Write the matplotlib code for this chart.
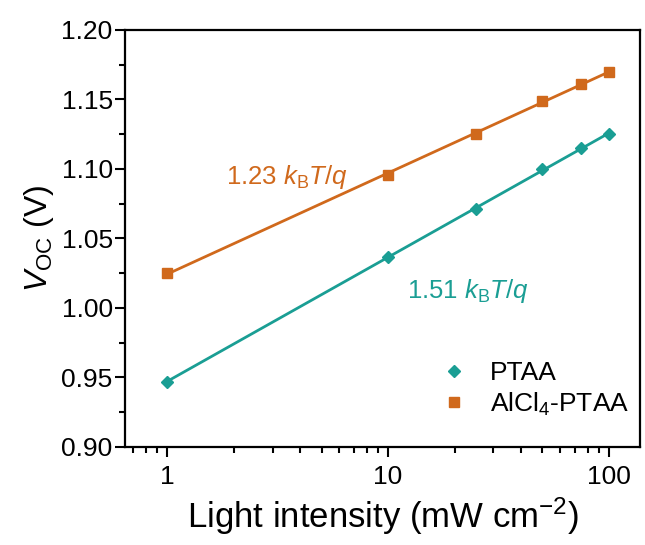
import numpy as np
import matplotlib
matplotlib.use("Agg")
import matplotlib.pyplot as plt
from matplotlib.ticker import LogLocator, NullFormatter, MultipleLocator

plt.rcParams["font.family"] = ["Liberation Sans", "DejaVu Sans"]
plt.rcParams["mathtext.fontset"] = "custom"
plt.rcParams["mathtext.rm"] = "Liberation Sans"
plt.rcParams["mathtext.it"] = "Liberation Sans:italic"
plt.rcParams["mathtext.bf"] = "Liberation Sans:bold"

# light intensity (mW cm^-2)
intensity = [1, 10, 25, 50, 75, 100]
voc_ptaa = [0.947, 1.037, 1.071, 1.100, 1.115, 1.125]
voc_alcl4 = [1.025, 1.096, 1.125, 1.149, 1.161, 1.170]

teal = "#1a9e94"
orange = "#d0691c"

fig = plt.figure(figsize=(6.45, 5.45), dpi=100)
ax = fig.add_axes([0.194, 0.180, 0.798, 0.765])

x = np.array(intensity, dtype=float)
for y, c, m, ms, lab in [(voc_ptaa, teal, "D", 6.5, "PTAA"),
                         (voc_alcl4, orange, "s", 6.5, r"AlCl$_4$-PTAA")]:
    p = np.polyfit(np.log10(x), y, 1)
    xf = np.logspace(0, 2, 50)
    ax.plot(xf, np.polyval(p, np.log10(xf)), color=c, lw=2)
    ax.plot(x, y, m, color=c, ms=ms, mec=c, label=lab, ls="none")

ax.set_xscale("log")
ax.set_xlim(0.645, 138)
ax.set_ylim(0.90, 1.20)
ax.set_xticks([1, 10, 100])
ax.set_xticklabels(["1", "10", "100"])
ax.xaxis.set_minor_locator(LogLocator(base=10, subs=np.arange(2, 10)))
ax.xaxis.set_minor_formatter(NullFormatter())
ax.yaxis.set_major_locator(MultipleLocator(0.05))
ax.yaxis.set_minor_locator(MultipleLocator(0.025))
ax.yaxis.set_major_formatter(plt.FormatStrFormatter("%.2f"))

ax.tick_params(which="major", direction="out", length=7, width=1.5,
               labelsize=19, top=False, right=False)
ax.tick_params(axis="y", which="major", pad=2)
ax.tick_params(axis="x", which="major", pad=6)
ax.tick_params(which="minor", direction="out", length=4, width=1.5,
               top=False, right=False)
for s in ax.spines.values():
    s.set_linewidth(1.6)

ax.set_xlabel(r"Light intensity (mW cm$^{-2}$)", fontsize=25, labelpad=5)
ax.set_ylabel(r"$V_\mathrm{OC}$ (V)", fontsize=23, labelpad=4)

ax.text(1.85, 1.089, r"1.23 $k_\mathrm{B}T/q$", color=orange, fontsize=18.5)
ax.text(12.2, 1.007, r"1.51 $k_\mathrm{B}T/q$", color=teal, fontsize=18.5)

ax.legend(loc="lower right", frameon=False, fontsize=19, handletextpad=0.6,
          borderaxespad=0.0, labelspacing=0.2, handlelength=1.5,
          bbox_to_anchor=(1.0, 0.045))

fig.savefig("out.png", dpi=100)
